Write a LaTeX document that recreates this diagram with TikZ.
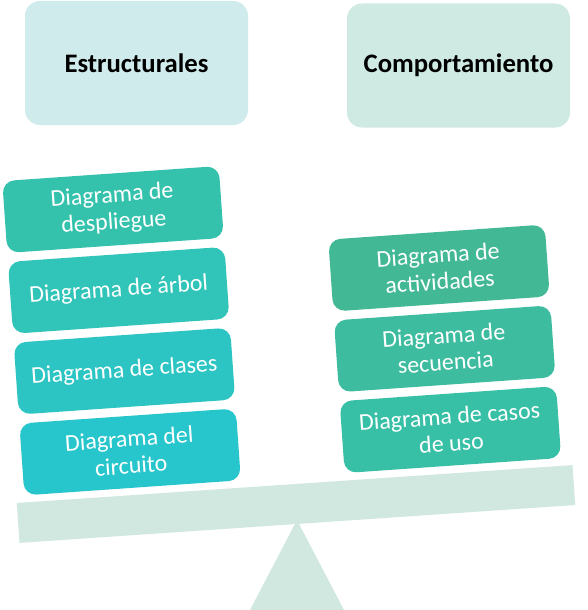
\documentclass[tikz,border=0pt]{standalone}
\usepackage{fontspec}
\setmainfont{Carlito}
\definecolor{beamc}{HTML}{D1E8E0}
\definecolor{hdrL}{HTML}{D0EBEC}
\definecolor{hdrR}{HTML}{CFEAE3}
\definecolor{lA}{HTML}{35C2AD}
\definecolor{lB}{HTML}{31C4B9}
\definecolor{lC}{HTML}{2CC5C3}
\definecolor{lD}{HTML}{27C5CC}
\definecolor{rA}{HTML}{42B895}
\definecolor{rB}{HTML}{3DBC9F}
\definecolor{rC}{HTML}{38C0A7}
\begin{document}
\begin{tikzpicture}[x=1pt,y=-1pt,
  hdr/.style={rounded corners=15pt, minimum width=223pt, minimum height=124pt,
    font=\fontsize{26.7}{30}\selectfont\bfseries, text=black, inner sep=0pt},
  item/.style={rounded corners=12pt, minimum width=217pt, minimum height=72pt,
    rotate=4, text=white, align=center, font=\fontsize{24}{27}\selectfont, inner sep=0pt},
  beamstyle/.style={fill=beamc, minimum width=557pt, minimum height=40pt, rotate=3.9, inner sep=0pt}
]
\useasboundingbox (0,0) rectangle (587,610);
% fulcrum
\coordinate (apex) at (297,520);
\coordinate (bl) at (250,610);
\coordinate (br) at (344,610);
\fill[beamc] (apex) -- (br) -- (bl) -- cycle;
% beam
\node[beamstyle] (beam) at (296,504) {};
% headers
\node[hdr, fill=hdrL] (estr) at (136.5,63) {Estructurales};
\node[hdr, fill=hdrR] (comp) at (458.5,65.5) {Comportamiento};
% left stack
\node[item, fill=lA] (l1) at (113,209.5) {Diagrama de\\despliegue};
\node[item, fill=lB] (l2) at (118.7,290.3) {Diagrama de árbol};
\node[item, fill=lC] (l3) at (124.4,371.1) {Diagrama de clases};
\node[item, fill=lD] (l4) at (130.1,451.9) {Diagrama del\\circuito};
% right stack
\node[item, fill=rA] (r1) at (439,268) {Diagrama de\\actividades};
\node[item, fill=rB] (r2) at (444.7,348.8) {Diagrama de\\secuencia};
\node[item, fill=rC] (r3) at (450.4,429.6) {Diagrama de casos\\de uso};
\end{tikzpicture}
\end{document}
